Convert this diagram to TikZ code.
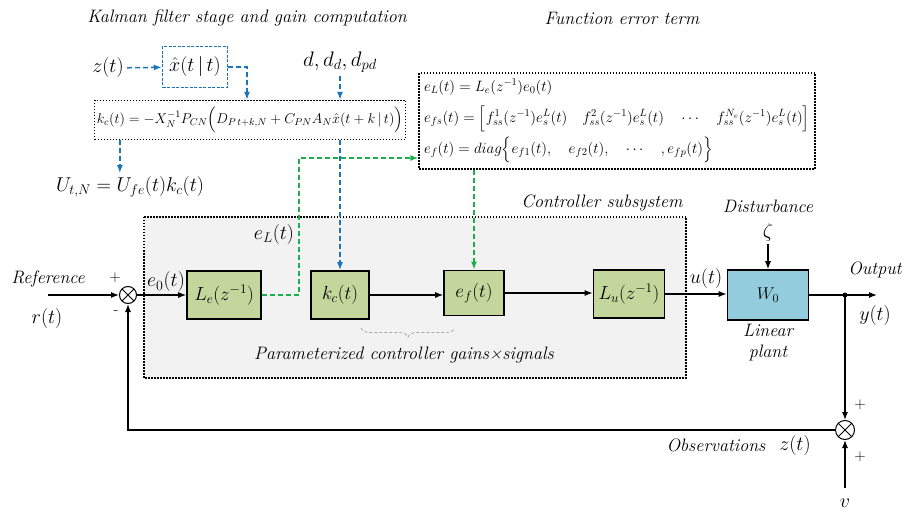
\RequirePackage{fix-cm}
\documentclass[tikz,border=0pt]{standalone}
\usepackage{exscale}
\usetikzlibrary{arrows.meta,positioning,decorations.pathreplacing}
\definecolor{boxgreen}{HTML}{C3D69B}
\definecolor{plantblue}{HTML}{93CDDD}
\definecolor{kalblue}{HTML}{1B75BC}
\definecolor{errgreen}{HTML}{1AAF4B}
\begin{document}
\begin{tikzpicture}[x=1pt, y=-1pt, >={Latex[length=8pt,width=6pt]},
  blk/.style={draw, line width=1.6pt, fill=boxgreen, minimum height=48pt, inner sep=2pt, font=\fontsize{19}{20}\selectfont},
  sumnode/.style={circle, draw, line width=1pt, minimum size=17pt, inner sep=0pt, path picture={\draw[line width=1pt] (path picture bounding box.north west) -- (path picture bounding box.south east) (path picture bounding box.north east) -- (path picture bounding box.south west);}},
  sig/.style={line width=1.2pt},
  kaldash/.style={kalblue, line width=1.5pt, dash pattern=on 5pt off 3pt},
  errdash/.style={errgreen, line width=1.5pt, dash pattern=on 5pt off 3pt},
  dotbox/.style={draw, line width=1.3pt, dash pattern=on 1.5pt off 1.5pt},
  lbl/.style={font=\fontsize{18}{21}\selectfont\itshape},
  mth/.style={font=\fontsize{20}{21}\selectfont}]
\useasboundingbox (0,0) rectangle (905,513);
\draw[dotbox, fill=gray!10] (144,217) rectangle (686,378);
\node[lbl] (kaltitle) at (247,18) {Kalman filter stage and gain computation};
\node[lbl] (errtitle) at (622,18) {Function error term};
\node[lbl] (ctrltitle) at (602,203) {Controller subsystem};
\node[mth] (zt) at (108,68) {$z(t)$};
\node[mth, draw=kalblue, line width=1.5pt, dash pattern=on 3pt off 1.5pt, minimum width=65pt, minimum height=41pt] (xhat) at (195,67) {$\hat{x}(t\,|\,t)$};
\node[font=\fontsize{21}{22}\selectfont] (dd) at (340,62) {$d,d_d,d_{pd}$};
\node[dotbox, minimum width=311pt, minimum height=39pt, inner sep=2pt, font=\fontsize{14.2}{16}\selectfont] (gain) at (250,120) {$k_c(t)=-X_N^{-1}P_{CN}\Bigl(D_{P\,t+k,N}+C_{PN}A_N\hat{x}(t+k\,|\,t)\Bigr)$};
\node[mth] (Ut) at (130,187) {$U_{t,N}=U_{fe}(t)k_c(t)$};
\node[dotbox, minimum width=396pt, minimum height=96pt, text width=386pt, align=left, font=\fontsize{15}{31}\selectfont] (errbox) at (617,121) {$e_L(t)=L_e(z^{-1})e_0(t)$\\
$e_{fs}(t)=\Bigl[f_{ss}^1(z^{-1})e_s^L(t)\quad f_{ss}^2(z^{-1})e_s^L(t)\quad\cdots\quad f_{ss}^{N_e}(z^{-1})e_s^L(t)\Bigr]$\\
$e_f(t)=diag\Bigl\{e_{f1}(t),\quad e_{f2}(t),\quad\cdots\quad,e_{fp}(t)\Bigr\}$};
\node[sumnode] (sum1) at (128,295) {};
\node[blk, minimum width=74pt] (Le) at (224,295) {$L_e(z^{-1})$};
\node[blk, minimum width=58pt] (kc) at (340,295) {$k_c(t)$};
\node[blk, minimum width=60pt, minimum height=45pt] (ef) at (474,293) {$e_f(t)$};
\node[blk, minimum width=71pt] (Lu) at (629,294) {$L_u(z^{-1})$};
\node[blk, fill=plantblue, minimum width=81pt, minimum height=50pt, font=\fontsize{17}{18}\selectfont] (W0) at (768,295) {$W_0$};
\node[sumnode, minimum size=19pt] (sum2) at (845,430) {};
\coordinate (rin) at (48,295);
\coordinate (yout) at (877,295);
\coordinate (tap) at (845,295);
\coordinate (vin) at (845,488);
\coordinate (gturn) at (299,158);
\node[mth] (zeta) at (768,232) {$\zeta$};
\draw[sig,->] (rin) -- (sum1);
\draw[sig,->] (sum1) -- (Le);
\draw[sig,->] (kc) -- (kc -| ef.west);
\draw[sig,->] (ef) -- (ef -| Lu.west);
\draw[sig,->] (Lu) -- (Lu -| W0.west);
\draw[sig,->] (W0) -- (yout);
\fill (tap) circle (2.5pt);
\draw[sig,->] (tap) -- (sum2);
\draw[sig,->] (vin) -- (sum2);
\draw[sig,->] (sum2) -| (sum1);
\draw[sig,->] (zeta) -- (W0);
\draw[kaldash,->] (zt) -- (xhat);
\draw[kaldash,->] (xhat) -| ([xshift=-3pt]gain.north);
\draw[kaldash,->] (dd) -- (dd |- gain.north);
\draw[kaldash,->] ([xshift=26pt]gain.south west) -- ([xshift=26pt]gain.south west |- Ut.north);
\draw[kaldash,->] (gain.south -| kc.north) -- (kc.north);
\draw[errdash,->] (Le) -| (gturn) -- (gturn -| errbox.west);
\draw[errdash,->] (errbox.south -| ef.north) -- (ef.north);
\draw[gray!70, line width=0.8pt, dash pattern=on 3pt off 2pt, decorate, decoration={brace, mirror, amplitude=9pt}] (361,328) -- (455,328);
\node[lbl] (reflbl) at (48,279) {Reference};
\node[mth] (rt) at (47,318) {$r(t)$};
\node[font=\fontsize{15}{16}\selectfont] (p1) at (115,278) {$+$};
\node[font=\fontsize{16}{16}\selectfont] (m1) at (116,313) {-};
\node[mth] (e0) at (166,282) {$e_0(t)$};
\node[mth] (eL) at (274,235) {$e_L(t)$};
\node[mth] (ut) at (706,279) {$u(t)$};
\node[lbl] (dist) at (768,206) {Disturbance};
\node[lbl] (outlbl) at (875,270) {Output};
\node[mth] (yt) at (875,316) {$y(t)$};
\node[lbl, align=center, below=0pt of W0] (plantlbl) {Linear\\plant};
\node[font=\fontsize{15}{16}\selectfont] (p2) at (860,405) {$+$};
\node[font=\fontsize{15}{16}\selectfont] (p3) at (860,457) {$+$};
\node[lbl] (obs) at (716,445) {Observations};
\node[mth] (zt2) at (795,445) {$z(t)$};
\node[mth] (vlbl) at (845,503) {$v$};
\node[lbl] (brlbl) at (404,355) {Parameterized controller gains×signals};
\end{tikzpicture}
\end{document}
